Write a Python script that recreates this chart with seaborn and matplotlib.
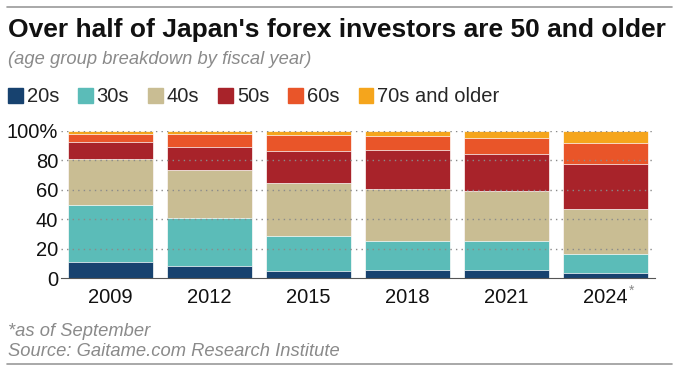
import matplotlib
matplotlib.use("Agg")
import matplotlib.pyplot as plt
import seaborn as sns
import pandas as pd
import numpy as np

years = ["2009", "2012", "2015", "2018", "2021", "2024"]
groups = ["20s", "30s", "40s", "50s", "60s", "70s and older"]
s20 = [11.0, 8.4, 5.0, 5.7, 5.7, 3.4]
s30 = [39.0, 32.6, 23.3, 19.2, 19.2, 13.1]
s40 = [31.0, 32.8, 36.2, 35.5, 34.1, 30.5]
s50 = [11.7, 15.6, 21.9, 26.9, 25.4, 30.6]
s60 = [5.5, 8.6, 10.9, 9.5, 10.8, 14.0]
s70 = [1.8, 2.0, 2.7, 3.2, 4.8, 8.4]
colors = ["#17426f", "#5bbcb8", "#c9bd93", "#a8232a", "#e95529", "#f5a51c"]

sns.set_theme(style="white")
plt.rcParams["font.family"] = ["Liberation Sans", "DejaVu Sans"]

series = [s20, s30, s40, s50, s60, s70]
cum = np.cumsum(np.array(series), axis=0)
df = pd.DataFrame({"year": np.repeat([years], len(groups), axis=0).ravel(),
                   "group": np.repeat(groups, len(years)),
                   "top": cum.ravel()})

fig = plt.figure(figsize=(6.8, 3.73), dpi=100)
ax = fig.add_axes([61 / 680, 1 - 278 / 373, 594 / 680, 147 / 373])

for g, c in reversed(list(zip(groups, colors))):
    sub = df[df["group"] == g]
    sns.barplot(data=sub, x="year", y="top", color=c, saturation=1, width=0.86,
                edgecolor="white", linewidth=0.5, ax=ax, errorbar=None, zorder=2)

ax.set_xlim(-0.5, 5.5)
ax.set_ylim(0, 100)
ax.set_yticks([0, 20, 40, 60, 80, 100])
ax.set_yticklabels(["0", "20", "40", "60", "80", "100%"])
ax.set_xlabel("")
ax.set_ylabel("")
for y in [20, 40, 60, 80, 100]:
    ax.axhline(y, color="#8a8a8a", linestyle=(0, (1, 3)), linewidth=1.0, zorder=3)
for sp in ["top", "right", "left"]:
    ax.spines[sp].set_visible(False)
ax.spines["bottom"].set_color("#555555")
ax.spines["bottom"].set_linewidth(0.8)
ax.tick_params(axis="x", length=4, width=0.8, color="#333333", labelsize=14.5, pad=3, colors="#111111")
ax.tick_params(axis="y", length=0, labelsize=14.5, pad=2, colors="#111111")
ax.tick_params(axis="x", labelcolor="#111111")

ax.annotate("*", xy=(5, 0), xycoords=("data", "axes fraction"), xytext=(18.5, -9),
            textcoords="offset points", fontsize=10, color="#888888", ha="center", va="center")

# title, subtitle
fig.text(8 / 680, 1 - 30 / 373, "Over half of Japan's forex investors are 50 and older",
         fontsize=19, fontweight="bold", color="#111111", va="center", ha="left")
fig.text(8 / 680, 1 - 60 / 373, "(age group breakdown by fiscal year)",
         fontsize=13.2, style="italic", color="#8a8a8a", va="center", ha="left")

# legend
handles = [plt.Rectangle((0, 0), 1, 1, color=c) for c in colors]
fig.legend(handles, groups, loc="center left", bbox_to_anchor=(0 / 680, 1 - 97 / 373),
           ncol=6, frameon=False, fontsize=14.5, handlelength=0.72, handleheight=0.72,
           handletextpad=0.2, columnspacing=0.95, borderaxespad=0)

# footnotes
fig.text(8 / 680, 1 - 331 / 373, "*as of September", fontsize=13.2, style="italic",
         color="#8a8a8a", va="center", ha="left")
fig.text(8 / 680, 1 - 352 / 373, "Source: Gaitame.com Research Institute", fontsize=13.2,
         style="italic", color="#8a8a8a", va="center", ha="left")

# rules
fig.add_artist(plt.Line2D([7 / 680, 672 / 680], [1 - 7 / 373, 1 - 7 / 373], color="#9a9a9a", linewidth=1.2))
fig.add_artist(plt.Line2D([7 / 680, 672 / 680], [1 - 364 / 373, 1 - 364 / 373], color="#9a9a9a", linewidth=1.2))

fig.savefig("out.png", dpi=100)
